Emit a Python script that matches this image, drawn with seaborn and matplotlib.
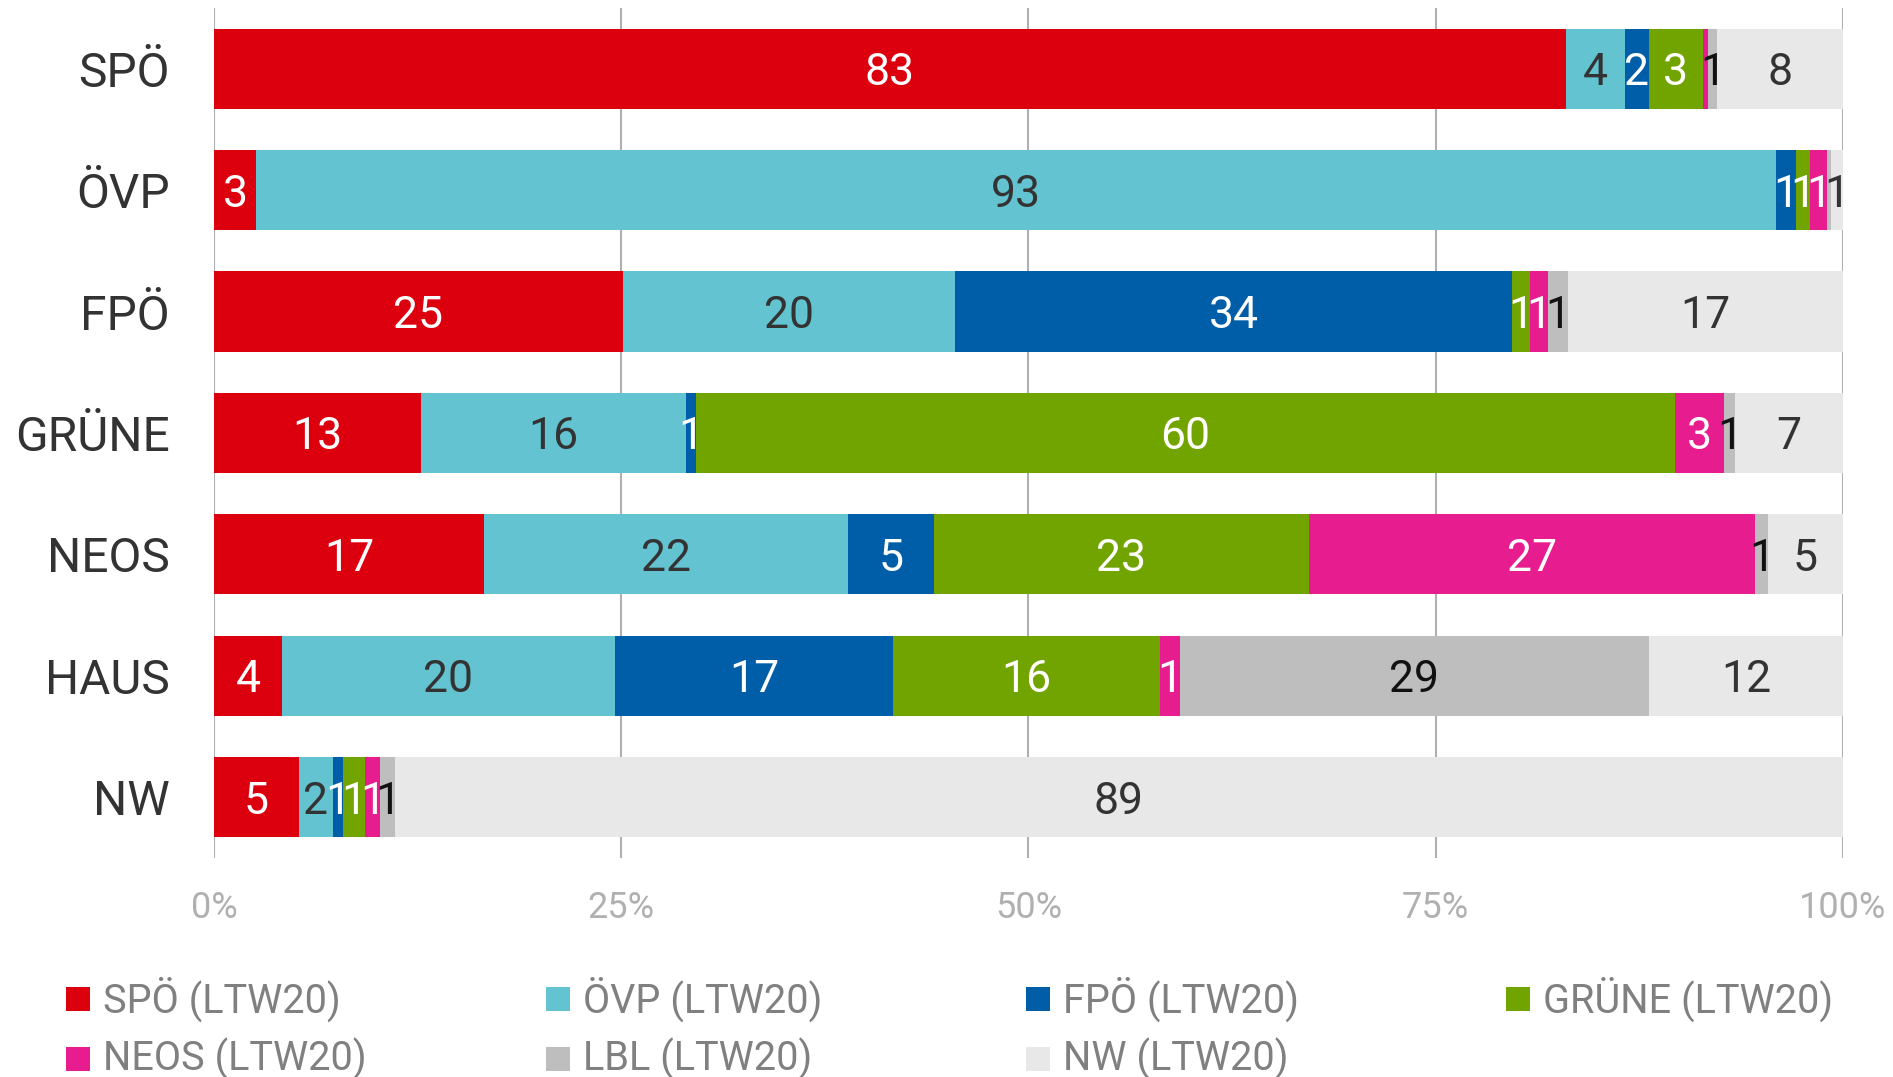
import numpy as np
import pandas as pd
import seaborn as sns
import matplotlib
matplotlib.use("Agg")
import matplotlib.pyplot as plt
from matplotlib.patches import Rectangle

# Wählerstromanalyse: Herkunft der Wähler je Partei (Anteile in %)
rows = ["SPÖ", "ÖVP", "FPÖ", "GRÜNE", "NEOS", "HAUS", "NW"]
series = ["SPÖ (LTW20)", "ÖVP (LTW20)", "FPÖ (LTW20)", "GRÜNE (LTW20)",
          "NEOS (LTW20)", "LBL (LTW20)", "NW (LTW20)"]
spoe = [83.0, 2.6, 25.1, 12.7, 16.6, 4.2, 5.2]
oevp = [3.6, 93.3, 20.4, 16.3, 22.3, 20.4, 2.1]
fpoe = [1.5, 1.2, 34.2, 0.6, 5.3, 17.1, 0.6]
gruene = [3.3, 0.9, 1.1, 60.1, 23.0, 16.4, 1.4]
neos = [0.3, 1.0, 1.1, 3.0, 27.4, 1.2, 0.9]
lbl = [0.6, 0.3, 1.2, 0.7, 0.8, 28.8, 0.9]
nw = [7.7, 0.7, 16.9, 6.6, 4.6, 11.9, 88.9]

colors = ["#dc000f", "#63c3d1", "#005ea8", "#72a400", "#e71d8f", "#bebebe", "#e8e8e8"]
label_colors = ["white", "#333333", "white", "white", "white", "#111111", "#333333"]

sns.set_style("white")
plt.rcParams["font.family"] = ["Roboto", "DejaVu Sans"]

df = pd.DataFrame(np.array([spoe, oevp, fpoe, gruene, neos, lbl, nw]).T,
                  index=rows, columns=series)
df = df.div(df.sum(axis=1), axis=0) * 100
cum = df.cumsum(axis=1)

fig = plt.figure(figsize=(18.93, 10.77), dpi=100)
ax = fig.add_axes([0.113, 0.2034, 0.8605, 0.7892])

# gestapelt: von hinten (kumuliert groesste) nach vorne zeichnen
for i in range(len(series) - 1, -1, -1):
    s = series[i]
    sns.barplot(x=cum[s].values, y=rows, orient="h", color=colors[i],
                saturation=1, width=0.66, linewidth=0, ax=ax)

for j, r in enumerate(rows):
    for i, s in enumerate(series):
        v = df.loc[r, s]
        txt = f"{v:.0f}"
        if txt == "0":
            continue
        ax.text(cum.loc[r, s] - v / 2, j, txt, ha="center", va="center_baseline",
                fontsize=32, color=label_colors[i])

ax.set_xlim(0, 100)
ax.set_ylim(6.5, -0.5)
ax.set_xticks([0, 25, 50, 75, 100])
ax.set_xticklabels(["0%", "25%", "50%", "75%", "100%"])
ax.tick_params(axis="x", length=0, pad=23, labelsize=26, labelcolor="#b0b0b0")
ax.tick_params(axis="y", length=0, pad=32, labelsize=34.5, labelcolor="#333333")
ax.set_xlabel("")
ax.set_ylabel("")
ax.set_axisbelow(True)
ax.xaxis.grid(True, color="#b0b0b0", linewidth=1.5)
ax.yaxis.grid(False)
sns.despine(ax=ax, left=True, bottom=True)

# Legende
W, H = 1893, 1077
for i, s in enumerate(series):
    col, row = i % 4, i // 4
    x0 = 66 + col * 480
    yc = 999 + row * 60
    fig.add_artist(Rectangle((x0 / W, 1 - (yc + 12) / H), 24 / W, 24 / H,
                             transform=fig.transFigure, color=colors[i], lw=0))
    fig.text((x0 + 37) / W, 1 - yc / H, s, ha="left", va="center",
             fontsize=28.5, color="#808080")

fig.savefig("out.png", dpi=100)
